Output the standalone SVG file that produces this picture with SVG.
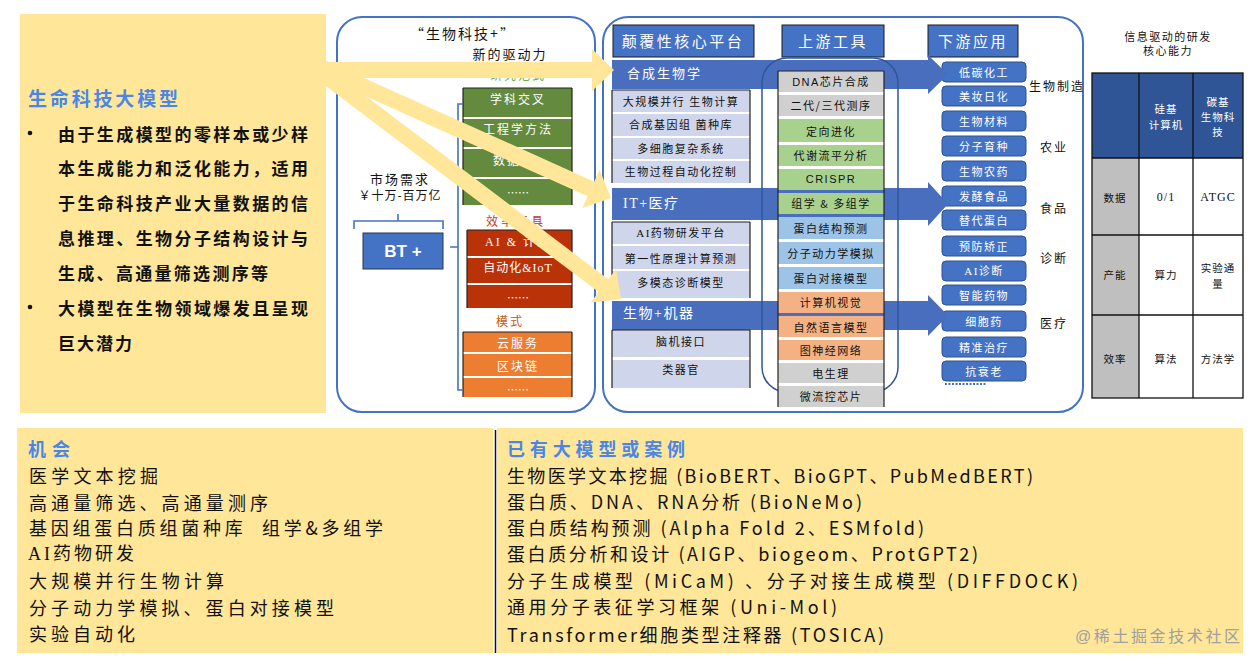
<svg xmlns="http://www.w3.org/2000/svg" width="1257" height="666" viewBox="0 0 1257 666">
<style>
text{font-family:'Noto Sans CJK SC',sans-serif;}
.ser{font-family:'Liberation Serif','Noto Sans CJK SC',serif;}
.san{font-family:'Liberation Sans','Noto Sans CJK SC',sans-serif;}
.c{text-anchor:middle;dominant-baseline:central;}
.m{dominant-baseline:central;}
.w{fill:#fff;}
.k{fill:#111;}
.hdr{fill:#4472C4;stroke:#1a1a1a;stroke-width:1;}
.lav{fill:#CFD5EA;}
.band{fill:#4A6EBE;}
.btn{fill:#4472C4;stroke:#2F528F;stroke-width:1;}
.ya{fill:#FFE699;}
.br{fill:none;stroke:#4472C4;stroke-width:1.6;}
.edge{stroke:#222;stroke-width:1.2;}
.tl{stroke:#111;stroke-width:1.3;fill:none;}
</style>

<!-- left panel -->
<g id="left-panel">
<rect x="20" y="14" width="306" height="399" class="ya"/>
<text x="28" y="97" class="m" font-size="19" font-weight="bold" fill="#4A86E8" textLength="150">生命科技大模型</text>
<circle cx="30" cy="133" r="2.3" fill="#111"/>
<circle cx="30" cy="307" r="2.3" fill="#111"/>
<g font-size="17" font-weight="bold" class="k">
<text x="58" y="133" class="m" textLength="250">由于生成模型的零样本或少样</text>
<text x="58" y="167" class="m" textLength="250">本生成能力和泛化能力，适用</text>
<text x="58" y="202" class="m" textLength="250">于生命科技产业大量数据的信</text>
<text x="58" y="237" class="m" textLength="250">息推理、生物分子结构设计与</text>
<text x="58" y="272" class="m" textLength="210">生成、高通量筛选测序等</text>
<text x="58" y="307" class="m" textLength="250">大模型在生物领域爆发且呈现</text>
<text x="58" y="342" class="m" textLength="74">巨大潜力</text>
</g>
</g>

<!-- panel 2 -->
<g id="bt-panel">
<rect x="337" y="17" width="258" height="395" rx="25" fill="none" stroke="#4472C4" stroke-width="2"/>
<text x="463" y="33" class="c k" font-size="14" letter-spacing="2">“生物科技+”</text>
<text x="510" y="53" class="c k" font-size="13" letter-spacing="2">新的驱动力</text>
<text x="518" y="74" class="c" font-size="12" letter-spacing="2" fill="#70AD47">研究范式</text>
<text x="400" y="178" class="c k" font-size="13" letter-spacing="2">市场需求</text>
<text x="400" y="194" class="c k" font-size="12" letter-spacing="1">￥十万-百万亿</text>
</g>
<g id="bt-box">
<rect x="363" y="233" width="80" height="36" fill="#4472C4" stroke="#2a3550" stroke-width="1"/>
<text x="403" y="251" class="c w san" font-size="17" font-weight="bold">BT +</text>
</g>
<g id="research-block">
<rect x="463" y="88" width="109" height="29" fill="#648A3E"/>
<rect x="463" y="119" width="109" height="28" fill="#648A3E"/>
<rect x="463" y="149" width="109" height="28" fill="#648A3E"/>
<rect x="463" y="179" width="109" height="26" fill="#648A3E"/>
<line x1="463" y1="88" x2="572" y2="88" class="edge"/>
<line x1="463" y1="88" x2="463" y2="205" class="edge"/>
<line x1="572" y1="88" x2="572" y2="205" class="edge"/>
<text x="518" y="98" class="c w" font-size="12" letter-spacing="2">学科交叉</text>
<text x="518" y="128" class="c w" font-size="12" letter-spacing="2">工程学方法</text>
<text x="493" y="159" class="m w" font-size="12" letter-spacing="2">数据</text>
<text x="518" y="192" class="c w" font-size="11">……</text>
</g>
<g id="tools-block">
<text x="516" y="220" class="c" font-size="12" letter-spacing="3" fill="#C0392B">效率工具</text>
<rect x="467" y="230" width="105" height="26" fill="#BA3208"/>
<rect x="467" y="258" width="105" height="25" fill="#BA3208"/>
<rect x="467" y="285" width="105" height="23" fill="#BA3208"/>
<line x1="467" y1="230" x2="572" y2="230" class="edge"/>
<line x1="467" y1="230" x2="467" y2="308" class="edge"/>
<line x1="572" y1="230" x2="572" y2="308" class="edge"/>
<text x="518" y="242" class="c w ser" font-size="12" letter-spacing="2">AI &amp; 计算</text>
<text x="518" y="268" class="c w ser" font-size="12" letter-spacing="1">自动化&amp;IoT</text>
<text x="518" y="297" class="c w" font-size="11">……</text>
</g>
<g id="mode-block">
<text x="510" y="320" class="c" font-size="12" letter-spacing="2" fill="#C55A11">模式</text>
<rect x="463" y="332" width="109" height="20" fill="#ED7D31"/>
<rect x="463" y="354" width="109" height="22" fill="#ED7D31"/>
<rect x="463" y="378" width="109" height="19" fill="#ED7D31"/>
<line x1="463" y1="332" x2="572" y2="332" class="edge"/>
<line x1="463" y1="332" x2="463" y2="397" class="edge"/>
<line x1="572" y1="332" x2="572" y2="397" class="edge"/>
<text x="518" y="342" class="c w" font-size="12" letter-spacing="2">云服务</text>
<text x="518" y="365" class="c w" font-size="12" letter-spacing="2">区块链</text>
<text x="518" y="389" class="c w" font-size="11">……</text>
</g>

<!-- panel 3 -->
<g id="platform-panel">
<rect x="603" y="17" width="480" height="395" rx="25" fill="none" stroke="#4472C4" stroke-width="2"/>
</g>

<!-- downstream buttons (under band heads) -->
<g id="downstream">
<rect x="928" y="25" width="90" height="32" class="hdr"/>
<text x="973" y="40" class="c w" font-size="15" letter-spacing="2.5">下游应用</text>
<g font-size="11" letter-spacing="1.5">
<rect x="942" y="62" width="84" height="20" rx="4" class="btn"/><text x="984" y="72" class="c w">低碳化工</text>
<rect x="942" y="86" width="84" height="20" rx="4" class="btn"/><text x="984" y="96" class="c w">美妆日化</text>
<rect x="942" y="111" width="84" height="20" rx="4" class="btn"/><text x="984" y="121" class="c w">生物材料</text>
<rect x="942" y="136" width="84" height="20" rx="4" class="btn"/><text x="984" y="146" class="c w">分子育种</text>
<rect x="942" y="161" width="84" height="20" rx="4" class="btn"/><text x="984" y="171" class="c w">生物农药</text>
<rect x="942" y="186" width="84" height="20" rx="4" class="btn"/><text x="984" y="196" class="c w">发酵食品</text>
<rect x="942" y="210" width="84" height="20" rx="4" class="btn"/><text x="984" y="220" class="c w">替代蛋白</text>
<rect x="942" y="236" width="84" height="20" rx="4" class="btn"/><text x="984" y="246" class="c w">预防矫正</text>
<rect x="942" y="261" width="84" height="20" rx="4" class="btn"/><text x="984" y="271" class="c w ser">AI诊断</text>
<rect x="942" y="285" width="84" height="20" rx="4" class="btn"/><text x="984" y="295" class="c w">智能药物</text>
<rect x="942" y="311" width="84" height="20" rx="4" class="btn"/><text x="984" y="321" class="c w">细胞药</text>
<rect x="942" y="337" width="84" height="20" rx="4" class="btn"/><text x="984" y="347" class="c w">精准治疗</text>
<rect x="942" y="361" width="84" height="20" rx="4" class="btn"/><text x="984" y="371" class="c w">抗衰老</text>
</g>
<line x1="945" y1="384" x2="986" y2="384" stroke="#4472C4" stroke-width="2" stroke-dasharray="2,1.5"/>
<g font-size="12" letter-spacing="2" class="k">
<text x="1057" y="85" class="c">生物制造</text>
<text x="1054" y="146" class="c">农业</text>
<text x="1054" y="207" class="c">食品</text>
<text x="1054" y="257" class="c">诊断</text>
<text x="1054" y="322" class="c">医疗</text>
</g>
</g>

<!-- bands -->
<g id="bands">
<polygon class="band" points="612,60 928,60 928,55 948,74.5 928,94 928,89 612,89"/>
<polygon class="band" points="612,188 928,188 928,182 948,204 928,226 928,220 612,220"/>
<polygon class="band" points="612,301 928,301 928,295 948,315.5 928,336 928,330 612,330"/>
<text x="627" y="72" class="m w" font-size="13" letter-spacing="2">合成生物学</text>
<text x="623" y="203" class="m w ser" font-size="14" letter-spacing="1.5">IT+医疗</text>
<text x="623" y="313" class="m w ser" font-size="14" letter-spacing="1.5">生物+机器</text>
</g>

<g id="platform-column">
<rect x="613" y="25" width="141" height="32" class="hdr"/>
<text x="683" y="40" class="c w" font-size="15" letter-spacing="2.5">颠覆性核心平台</text>
<rect x="612" y="90" width="138" height="22" class="lav"/>
<rect x="612" y="114" width="138" height="22" class="lav"/>
<rect x="612" y="138" width="138" height="21" class="lav"/>
<rect x="612" y="161" width="138" height="22" class="lav"/>
<line x1="612" y1="90" x2="612" y2="183" class="edge"/><line x1="750" y1="90" x2="750" y2="183" class="edge"/>
<line x1="612" y1="90" x2="750" y2="90" class="edge"/>
<g font-size="11" letter-spacing="1.5" class="k">
<text x="681" y="101" class="c">大规模并行 生物计算</text>
<text x="681" y="124" class="c">合成基因组 菌种库</text>
<text x="681" y="148" class="c">多细胞复杂系统</text>
<text x="681" y="171" class="c">生物过程自动化控制</text>
</g>
<rect x="612" y="222" width="138" height="22" class="lav"/>
<rect x="612" y="246" width="138" height="23" class="lav"/>
<rect x="612" y="271" width="138" height="27" class="lav"/>
<line x1="612" y1="222" x2="612" y2="298" class="edge"/><line x1="750" y1="222" x2="750" y2="298" class="edge"/>
<line x1="612" y1="222" x2="750" y2="222" class="edge"/>
<g font-size="11" letter-spacing="1.5" class="k">
<text x="681" y="233" class="c ser">AI药物研发平台</text>
<text x="681" y="258" class="c">第一性原理计算预测</text>
<text x="681" y="282" class="c">多模态诊断模型</text>
</g>
<rect x="612" y="330" width="138" height="27" class="lav"/>
<rect x="612" y="360" width="138" height="28" class="lav"/>
<line x1="612" y1="330" x2="612" y2="388" class="edge"/><line x1="750" y1="330" x2="750" y2="388" class="edge"/>
<line x1="612" y1="330" x2="750" y2="330" class="edge"/>
<g font-size="11" letter-spacing="1.5" class="k">
<text x="681" y="341" class="c">脑机接口</text>
<text x="681" y="369" class="c">类器官</text>
</g>
</g>

<g id="upstream">
<rect x="782" y="25" width="102" height="32" class="hdr"/>
<text x="833" y="40" class="c w" font-size="15" letter-spacing="2.5">上游工具</text>
<rect x="762" y="58" width="136" height="334" rx="25" fill="none" stroke="#2F5597" stroke-width="1.5"/>
<rect x="778" y="71" width="106" height="21" fill="#D0D0D0"/>
<rect x="778" y="95" width="106" height="21" fill="#D0D0D0"/>
<rect x="778" y="119" width="106" height="23" fill="#A9D18E"/>
<rect x="778" y="145" width="106" height="21" fill="#A9D18E"/>
<rect x="778" y="169" width="106" height="21" fill="#A9D18E"/>
<rect x="778" y="193" width="106" height="21" fill="#A9D18E"/>
<rect x="778" y="217" width="106" height="22" fill="#9DC3E6"/>
<rect x="778" y="242" width="106" height="22" fill="#9DC3E6"/>
<rect x="778" y="267" width="106" height="22" fill="#9DC3E6"/>
<rect x="778" y="292" width="106" height="21" fill="#F4B183"/>
<rect x="778" y="316" width="106" height="21" fill="#F4B183"/>
<rect x="778" y="340" width="106" height="20" fill="#F4B183"/>
<rect x="778" y="363" width="106" height="20" fill="#D0D0D0"/>
<rect x="778" y="386" width="106" height="21" fill="#D0D0D0"/>
<line x1="778" y1="71" x2="778" y2="407" class="edge"/><line x1="884" y1="71" x2="884" y2="407" class="edge"/>
<line x1="778" y1="71" x2="884" y2="71" class="edge"/>
<g font-size="11" letter-spacing="1.5" class="k">
<text x="831" y="82" class="c san">DNA芯片合成</text>
<text x="831" y="105" class="c">二代/三代测序</text>
<text x="831" y="131" class="c">定向进化</text>
<text x="831" y="155" class="c">代谢流平分析</text>
<text x="831" y="179" class="c san">CRISPR</text>
<text x="831" y="203" class="c">组学 &amp; 多组学</text>
<text x="831" y="228" class="c">蛋白结构预测</text>
<text x="831" y="253" class="c">分子动力学模拟</text>
<text x="831" y="278" class="c">蛋白对接模型</text>
<text x="831" y="302" class="c">计算机视觉</text>
<text x="831" y="327" class="c">自然语言模型</text>
<text x="831" y="350" class="c">图神经网络</text>
<text x="831" y="373" class="c">电生理</text>
<text x="831" y="396" class="c">微流控芯片</text>
</g>
</g>

<!-- right table -->
<g id="capability-table">
<text x="1168" y="36" class="c k" font-size="11" letter-spacing="1.5">信息驱动的研发</text>
<text x="1168" y="50" class="c k" font-size="11" letter-spacing="1.5">核心能力</text>
<rect x="1092" y="73" width="151" height="85" fill="#2F5597"/>
<rect x="1092" y="158" width="47" height="240" fill="#BFBFBF"/>
<rect x="1139" y="158" width="104" height="240" fill="#fff"/>
<rect x="1092" y="73" width="151" height="325" class="tl"/>
<line x1="1139" y1="73" x2="1139" y2="398" class="tl"/>
<line x1="1193" y1="73" x2="1193" y2="398" class="tl"/>
<line x1="1092" y1="158" x2="1243" y2="158" class="tl"/>
<line x1="1092" y1="235" x2="1243" y2="235" class="tl"/>
<line x1="1092" y1="315" x2="1243" y2="315" class="tl"/>
<g font-size="10.5" letter-spacing="1">
<text x="1166" y="108" class="c w">硅基</text>
<text x="1166" y="124" class="c w">计算机</text>
<text x="1218" y="101" class="c w">碳基</text>
<text x="1218" y="116" class="c w">生物科</text>
<text x="1218" y="131" class="c w">技</text>
<text x="1115" y="197" class="c k">数据</text>
<text x="1166" y="197" class="c k ser" font-size="12">0/1</text>
<text x="1218" y="197" class="c k ser" font-size="12">ATGC</text>
<text x="1115" y="274" class="c k">产能</text>
<text x="1166" y="274" class="c k">算力</text>
<text x="1218" y="267" class="c k">实验通</text>
<text x="1218" y="283" class="c k">量</text>
<text x="1115" y="358" class="c k">效率</text>
<text x="1166" y="358" class="c k">算法</text>
<text x="1218" y="358" class="c k">方法学</text>
</g>
</g>

<!-- bottom boxes -->
<g id="opportunity">
<rect x="17" y="428" width="476" height="225" class="ya"/>
<text x="28" y="448" class="m" font-size="18" font-weight="bold" fill="#4A86E8" textLength="42">机会</text>
<g font-size="18" class="k">
<text x="29" y="475" class="m" textLength="129">医学文本挖掘</text>
<text x="29" y="502" class="m" textLength="239">高通量筛选、高通量测序</text>
<text x="29" y="527" class="m" textLength="354" xml:space="preserve">基因组蛋白质组菌种库  组学&amp;多组学</text>
<text x="28" y="554" class="m ser" textLength="106">AI药物研发</text>
<text x="29" y="580" class="m" textLength="195">大规模并行生物计算</text>
<text x="29" y="607" class="m" textLength="305">分子动力学模拟、蛋白对接模型</text>
<text x="29" y="633" class="m" textLength="106">实验自动化</text>
</g>
</g>
<g id="cases">
<rect x="497" y="428" width="746" height="225" class="ya"/>
<line x1="495.5" y1="430" x2="495.5" y2="653" stroke="#111" stroke-width="1.5"/>
<text x="507" y="448" class="m" font-size="18" font-weight="bold" fill="#4A86E8" textLength="178">已有大模型或案例</text>
<g font-size="18" class="k san">
<text x="507" y="475" class="m" textLength="526">生物医学文本挖掘 (BioBERT、BioGPT、PubMedBERT)</text>
<text x="507" y="501" class="m" textLength="355">蛋白质、DNA、RNA分析 (BioNeMo)</text>
<text x="507" y="527" class="m" textLength="417">蛋白质结构预测 (Alpha Fold 2、ESMfold)</text>
<text x="507" y="553" class="m" textLength="471">蛋白质分析和设计 (AIGP、biogeom、ProtGPT2)</text>
<text x="507" y="580" class="m" textLength="571">分子生成模型 (MiCaM) 、分子对接生成模型 (DIFFDOCK)</text>
<text x="507" y="606" class="m" textLength="330">通用分子表征学习框架 (Uni-Mol)</text>
<text x="507" y="634" class="m" textLength="377">Transformer细胞类型注释器 (TOSICA)</text>
</g>
<text x="1075" y="636" class="m san" font-size="16" fill="#A0A0A0" textLength="165">@稀土掘金技术社区</text>
</g>

<!-- connectors -->
<g id="connectors">
<path class="br" d="M354,229 V221 H443 V229 M398,221 V214"/>
<path class="br" d="M463,104 H458 V390 H463 M450,247 H458"/>
<g class="ya">
<polygon transform="translate(614,70)" points="-299,-8 -22,-8 -22,-21 0,0 -22,21 -22,8 -299,8"/>
<polygon transform="translate(611,198) rotate(24.25)" points="-322,-8 -22,-8 -22,-21 0,0 -22,21 -22,8 -322,8"/>
<polygon transform="translate(621,299) rotate(37.08)" points="-380,-8 -22,-8 -22,-21 0,0 -22,21 -22,8 -380,8"/>
</g>
</g>
</svg>
